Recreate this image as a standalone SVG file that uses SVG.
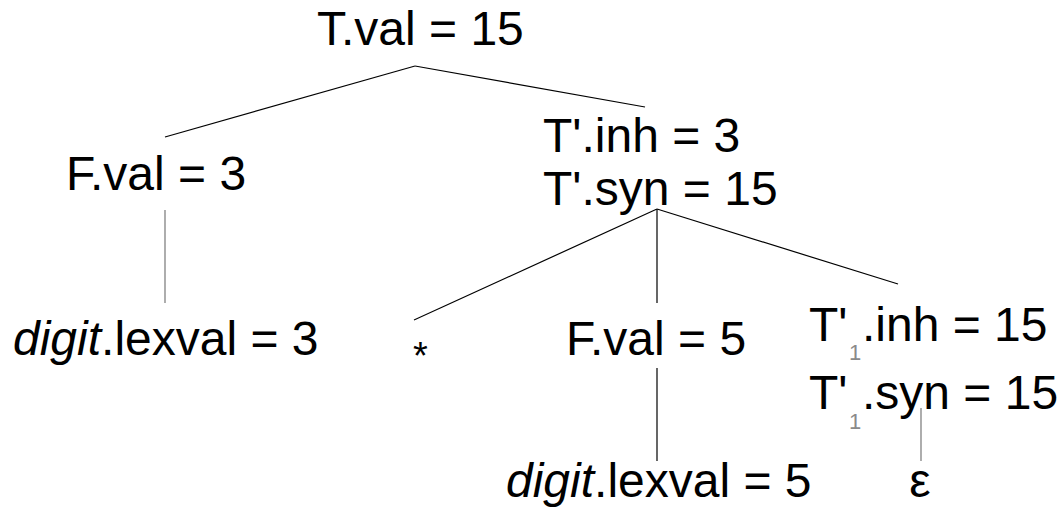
<svg xmlns="http://www.w3.org/2000/svg" width="1064" height="508" viewBox="0 0 1064 508">
<style>
text { font-family: "Liberation Sans", Arial, sans-serif; font-size: 48px; fill: #000; }
.it { font-style: italic; }
.sub { font-size: 22px; fill: #8a8a8a; }
.edge { stroke: #000; stroke-width: 1.2; fill: none; }
.edge-g { stroke: #777; stroke-width: 1.2; fill: none; }
</style>
<rect width="1064" height="508" fill="#fff"/>
<g id="connectors">
<line class="edge" x1="415" y1="66" x2="165" y2="137"/>
<line class="edge" x1="415" y1="66" x2="645" y2="107"/>
<line class="edge-g" x1="165" y1="210" x2="165" y2="303"/>
<line class="edge" x1="657" y1="209" x2="414" y2="320"/>
<line class="edge" x1="657" y1="209" x2="657" y2="303"/>
<line class="edge" x1="657" y1="209" x2="898" y2="284"/>
<line class="edge" x1="657" y1="368" x2="657" y2="461"/>
<line class="edge-g" x1="921" y1="408" x2="921" y2="461"/>
</g>
<g id="n-T"><text x="317" y="45">T.val = 15</text></g>
<g id="n-F1"><text x="66" y="190">F.val = 3</text></g>
<g id="n-Tp"><text x="543" y="152">T'.inh = 3</text><text x="543" y="205">T'.syn = 15</text></g>
<g id="n-d1"><text x="13" y="355"><tspan class="it">digit</tspan>.lexval = 3</text></g>
<g id="n-star"><text x="413" y="369" style="font-size:38px">*</text></g>
<g id="n-F2"><text x="566" y="355">F.val = 5</text></g>
<g id="n-T1"><text x="809" y="341">T'</text><text class="sub" x="849" y="360">1</text><text x="862" y="341">.inh = 15</text><text x="809" y="409">T'</text><text class="sub" x="849" y="429">1</text><text x="862" y="409">.syn = 15</text></g>
<g id="n-d2"><text x="506" y="497"><tspan class="it">digit</tspan>.lexval = 5</text></g>
<g id="n-eps"><text x="920" y="497" text-anchor="middle">ε</text></g>
</svg>
